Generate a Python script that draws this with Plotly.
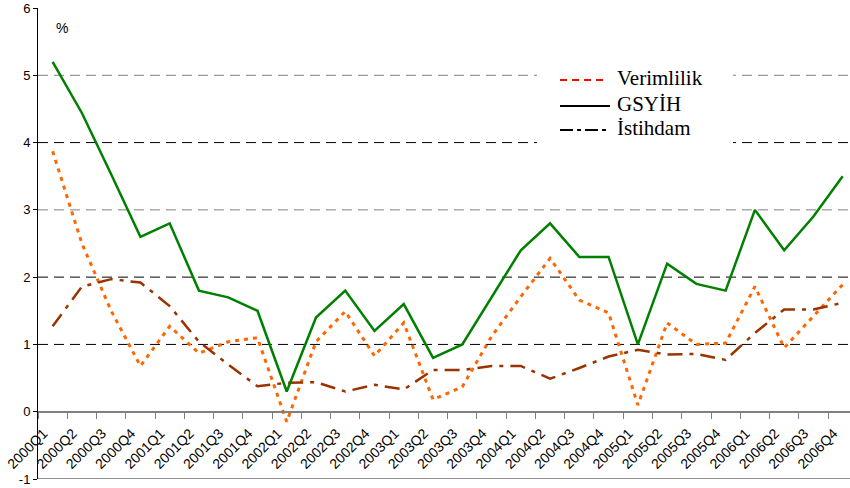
import plotly.graph_objects as go

quarters = ["2000Q1", "2000Q2", "2000Q3", "2000Q4",
            "2001Q1", "2001Q2", "2001Q3", "2001Q4",
            "2002Q1", "2002Q2", "2002Q3", "2002Q4",
            "2003Q1", "2003Q2", "2003Q3", "2003Q4",
            "2004Q1", "2004Q2", "2004Q3", "2004Q4",
            "2005Q1", "2005Q2", "2005Q3", "2005Q4",
            "2006Q1", "2006Q2", "2006Q3", "2006Q4"]

verimlilik = [3.87, 2.50, 1.50, 0.68,
              1.27, 0.87, 1.04, 1.10,
              -0.15, 1.04, 1.49, 0.83,
              1.32, 0.18, 0.37, 1.12,
              1.71, 2.28, 1.66, 1.47,
              0.10, 1.32, 1.00, 1.02,
              1.86, 0.95, 1.42, 1.89]

gsyih = [5.2, 4.44, 3.53, 2.6,
         2.8, 1.8, 1.7, 1.5,
         0.3, 1.4, 1.8, 1.2,
         1.6, 0.8, 1.0, 1.7,
         2.4, 2.8, 2.3, 2.3,
         1.0, 2.2, 1.9, 1.8,
         3.0, 2.4, 2.9, 3.5]

istihdam = [1.27, 1.86, 1.97, 1.92,
            1.57, 1.04, 0.70, 0.38,
            0.43, 0.44, 0.30, 0.40,
            0.33, 0.62, 0.62, 0.68,
            0.68, 0.49, 0.65, 0.82,
            0.92, 0.85, 0.86, 0.77,
            1.17, 1.52, 1.52, 1.62]

series_names = ["Verimlilik", "GSYİH", "İstihdam"]
y_ticks = [-1, 0, 1, 2, 3, 4, 5, 6]
grid_levels = [1, 2, 3, 4, 5]
grid_colors = ["#000000", "#000000", "#808080", "#000000", "#808080"]

fig = go.Figure()

fig.add_trace(go.Scatter(x=quarters, y=verimlilik, mode="lines", name=series_names[0],
                         showlegend=False,
                         line=dict(color="#FF6600", width=3, dash="4px,5px")))
fig.add_trace(go.Scatter(x=quarters, y=istihdam, mode="lines", name=series_names[2],
                         showlegend=False,
                         line=dict(color="#993300", width=2.5, dash="15px,7px,4px,7px")))
fig.add_trace(go.Scatter(x=quarters, y=gsyih, mode="lines", name=series_names[1],
                         showlegend=False,
                         line=dict(color="#008000", width=2.5)))

# gridlines and frame
shapes = []
for lvl, col in zip(grid_levels, grid_colors):
    shapes.append(dict(type="line", xref="paper", x0=0, x1=1, yref="y", y0=lvl, y1=lvl,
                       line=dict(color=col, width=1, dash="10px,6px"), layer="below"))
shapes.append(dict(type="line", xref="paper", x0=0, x1=1, yref="y", y0=-1, y1=-1,
                   line=dict(color="#909090", width=2), layer="below"))

# legend box (Excel-style key)
shapes.append(dict(type="rect", xref="paper", yref="paper", x0=0.6145, x1=0.8559,
                   y0=0.707, y1=0.8938, fillcolor="white", line=dict(width=0), layer="below"))
legend_samples = [
    (0.8471, dict(color="#FF0000", width=2, dash="7px,5px"), 0.6983),
    (0.7919, dict(color="#000000", width=2), 0.7044),
    (0.7410, dict(color="#000000", width=2, dash="13px,4px,4px,4px"), 0.7044),
]
for ypos, ln, xend in legend_samples:
    shapes.append(dict(type="line", xref="paper", yref="paper", x0=0.6429, x1=xend,
                       y0=ypos, y1=ypos, line=ln, layer="above"))

legend_text_y = [0.8524, 0.7972, 0.7442]
annotations = [dict(text="%", xref="paper", yref="y", x=0.03, y=5.71,
                    showarrow=False, font=dict(size=14, color="black"),
                    xanchor="center", yanchor="middle")]
for name, ypos in zip(series_names, legend_text_y):
    annotations.append(dict(text=name, xref="paper", yref="paper", x=0.7106, y=ypos,
                            showarrow=False, xanchor="left", yanchor="middle",
                            font=dict(family="Liberation Serif, Times New Roman, serif",
                                      size=21, color="black")))

fig.update_layout(
    width=850, height=488,
    margin=dict(l=38, r=0, t=8, b=9),
    paper_bgcolor="white", plot_bgcolor="white",
    font=dict(family="Arial, Liberation Sans, sans-serif", size=13, color="black"),
    showlegend=False,
    shapes=shapes,
    annotations=annotations,
    xaxis=dict(type="category", range=[-0.5, 27.25],
               anchor="free", position=1/7,
               showline=True, linecolor="#808080", linewidth=2,
               ticks="outside", tickson="boundaries", ticklen=6, tickcolor="#808080", tickwidth=1,
               tickangle=-45, tickfont=dict(size=14, family="Arial, Liberation Sans, sans-serif"),
               ticklabelshift=-9, ticklabelstandoff=7,
               showgrid=False, zeroline=False),
    yaxis=dict(range=[-1, 6], tickvals=y_ticks, ticktext=[str(v) for v in y_ticks],
               showline=True, linecolor="black", linewidth=1,
               ticks="outside", ticklen=4, tickcolor="black",
               showgrid=False, zeroline=True, zerolinecolor="#808080", zerolinewidth=2,
               tickfont=dict(size=13)),
)

fig.write_html("out.html", config={"displayModeBar": False},
               post_script="document.body.style.margin='0';")
